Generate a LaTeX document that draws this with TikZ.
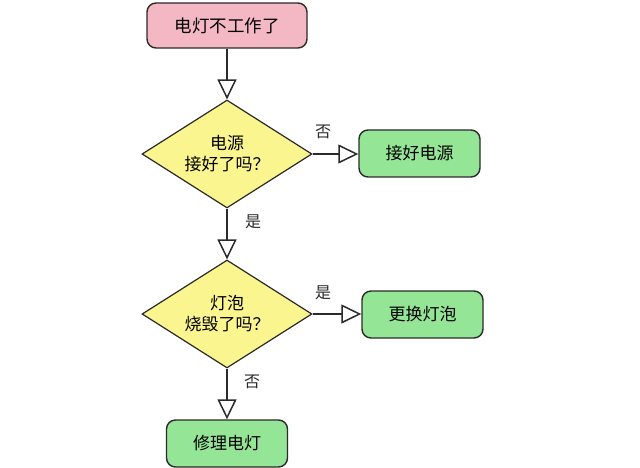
\documentclass[tikz,border=0pt]{standalone}
\usepackage{fontspec}
\newfontfamily\cjk{Noto Sans CJK SC}
\usetikzlibrary{shapes.geometric,arrows.meta}
\definecolor{pinkfill}{HTML}{F4B8C4}
\definecolor{greenfill}{HTML}{95E597}
\definecolor{yellowfill}{HTML}{FAF58E}
\definecolor{edge}{HTML}{2A2A2A}
\tikzset{
  startbox/.style={draw=edge, line width=1.4pt, rounded corners=9pt, fill=pinkfill, minimum width=160pt, minimum height=45pt, inner sep=0pt, font=\cjk\fontsize{17.5}{20}\selectfont},
  actbox/.style={draw=edge, line width=1.4pt, rounded corners=9pt, fill=greenfill, minimum width=121pt, minimum height=47pt, inner sep=0pt, font=\cjk\fontsize{17}{20}\selectfont},
  decide/.style={draw=edge, line width=1.2pt, diamond, shape aspect=1.6, fill=yellowfill, minimum width=170pt, minimum height=108pt, inner sep=0pt, align=center, font=\cjk\fontsize{17}{21}\selectfont},
  conn/.style={draw=edge, line width=2pt, -{Triangle[open, length=20pt, width=19pt, line width=1.5pt]}},
  lbl/.style={font=\cjk\fontsize{16}{18}\selectfont, text=edge, inner sep=0pt}
}
\begin{document}
\begin{tikzpicture}[x=1pt,y=-1pt]
\useasboundingbox[fill=white] (0,0) rectangle (640,468);
\node[startbox] (start) at (227,25.5) {电灯不工作了};
\node[decide] (d1) at (227,154) {电源\\接好了吗？};
\node[actbox] (power) at (419.5,153.5) {接好电源};
\node[decide] (d2) at (227,314) {灯泡\\烧毁了吗？};
\node[actbox] (bulb) at (422.5,314.5) {更换灯泡};
\node[actbox] (repair) at (227,443.5) {修理电灯};
\draw[conn] (start) -- (d1);
\draw[conn] (d1.east) -- (power.west |- d1.east);
\draw[conn] (d1) -- (d2);
\draw[conn] (d2.east) -- (bulb.west |- d2.east);
\draw[conn] (d2) -- (repair);
\node[lbl] (l1) at (323,132) {否};
\node[lbl] (l2) at (253,222) {是};
\node[lbl] (l3) at (323,293) {是};
\node[lbl] (l4) at (252,382) {否};
\end{tikzpicture}
\end{document}
